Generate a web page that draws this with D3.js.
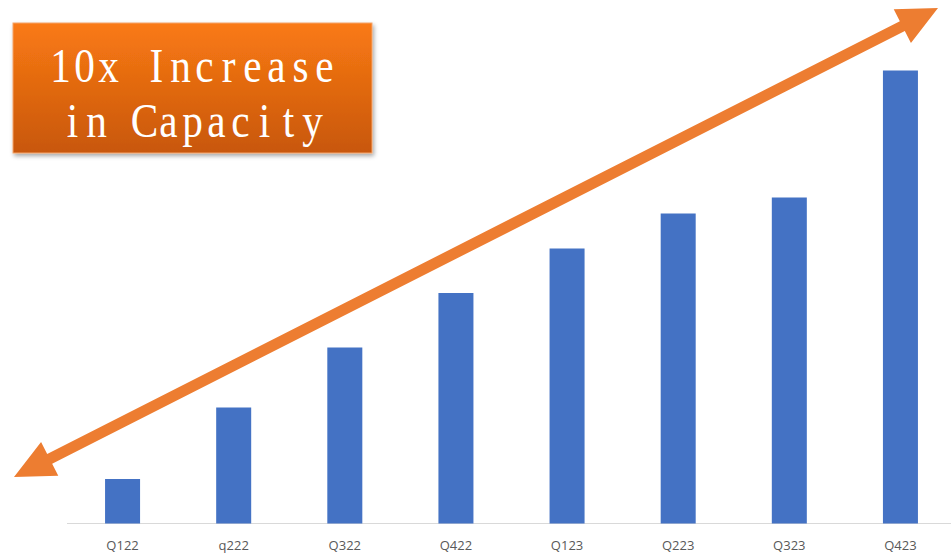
<!DOCTYPE html>
<html>
<head>
<meta charset="utf-8">
<script src="https://cdn.jsdelivr.net/npm/d3@7"></script>
<style>
  html, body { margin: 0; padding: 0; background: #ffffff; }
  svg { display: block; }
</style>
</head>
<body>
<svg id="chart" width="951" height="557"></svg>
<script>
const categories = ["Q122", "q222", "Q322", "Q422", "Q123", "Q223", "Q323", "Q423"];
const capacity = [44.5, 116, 176, 230.5, 275, 310, 326, 453];
const titleLines = ["10x Increase", "in Capacity"];

const svg = d3.select("#chart");
const W = 951, H = 557;
const baseY = 523.5;

const x = d3.scaleBand().domain(categories).range([67, 956]).paddingInner(0.685).paddingOuter(0.3425);
const y = d3.scaleLinear().domain([0, 500]).range([baseY, 23.5]);

const defs = svg.append("defs");
const grad = defs.append("linearGradient").attr("id", "boxGrad").attr("x1", 0).attr("y1", 0).attr("x2", 0).attr("y2", 1);
grad.append("stop").attr("offset", "0%").attr("stop-color", "#fa7a14");
grad.append("stop").attr("offset", "100%").attr("stop-color", "#c8570b");
const sh = defs.append("filter").attr("id", "shadow").attr("x", "-10%").attr("y", "-10%").attr("width", "130%").attr("height", "130%");
sh.append("feDropShadow").attr("dx", 1.5).attr("dy", 2.5).attr("stdDeviation", 2).attr("flood-color", "#000").attr("flood-opacity", 0.35);

// axis line
svg.append("line")
  .attr("x1", 67).attr("x2", W)
  .attr("y1", baseY).attr("y2", baseY)
  .attr("stroke", "#d9d9d9").attr("stroke-width", 1.2);

// bars
svg.append("g").selectAll("rect").data(categories).join("rect")
  .attr("x", d => x(d))
  .attr("width", x.bandwidth())
  .attr("y", (d, i) => y(capacity[i]))
  .attr("height", (d, i) => baseY - y(capacity[i]))
  .attr("fill", "#4472c4");

// x axis labels
const xAxis = d3.axisBottom(x).tickSize(0).tickPadding(0);
const ax = svg.append("g").attr("transform", `translate(0,${baseY})`).call(xAxis);
ax.select(".domain").remove();
ax.selectAll("text")
  .attr("y", 22).attr("dy", "0.32em")
  .attr("fill", "#595959")
  .style("font-family", "'Open Sans', 'Liberation Sans', sans-serif")
  .style("font-size", "13px");

// double-headed arrow
const p1 = [14, 477], p2 = [938, 8];
const ang = Math.atan2(p2[1] - p1[1], p2[0] - p1[0]);
const headLen = 40, headHalf = 19, shaftHalf = 5.5;
const ux = Math.cos(ang), uy = Math.sin(ang), nx = -uy, ny = ux;
function pt(base, along, perp) { return [base[0] + ux * along + nx * perp, base[1] + uy * along + ny * perp]; }
const L = Math.hypot(p2[0] - p1[0], p2[1] - p1[1]);
const arrowPts = [
  p1,
  pt(p1, headLen, headHalf),
  pt(p1, headLen, shaftHalf),
  pt(p1, L - headLen, shaftHalf),
  pt(p1, L - headLen, headHalf),
  p2,
  pt(p1, L - headLen, -headHalf),
  pt(p1, L - headLen, -shaftHalf),
  pt(p1, headLen, -shaftHalf),
  pt(p1, headLen, -headHalf)
];
svg.append("path")
  .attr("d", d3.line()(arrowPts) + "Z")
  .attr("fill", "#ed7d31");

// title box
const box = { x: 13, y: 23, w: 359, h: 130 };
svg.append("rect")
  .attr("x", box.x).attr("y", box.y).attr("width", box.w).attr("height", box.h)
  .attr("fill", "url(#boxGrad)")
  .attr("stroke", "#f4a46a").attr("stroke-width", 1)
  .attr("filter", "url(#shadow)");

// serif monospace-like title: each glyph centred in a fixed cell
const cell = 24, sx = 0.86;
const cx = box.x + box.w / 2;
const baselines = [82, 137];
titleLines.forEach((line, li) => {
  const start = cx - (line.length * cell) / 2;
  const t = svg.append("text")
    .attr("transform", `scale(${sx},1)`)
    .attr("y", baselines[li])
    .attr("fill", "#ffffff")
    .attr("text-anchor", "middle")
    .style("font-family", "'Liberation Serif', 'DejaVu Serif', serif")
    .style("font-size", "48px");
  line.split("").forEach((ch, ci) => {
    t.append("tspan")
      .attr("x", (start + ci * cell + cell / 2) / sx)
      .text(ch);
  });
});
</script>
</body>
</html>
